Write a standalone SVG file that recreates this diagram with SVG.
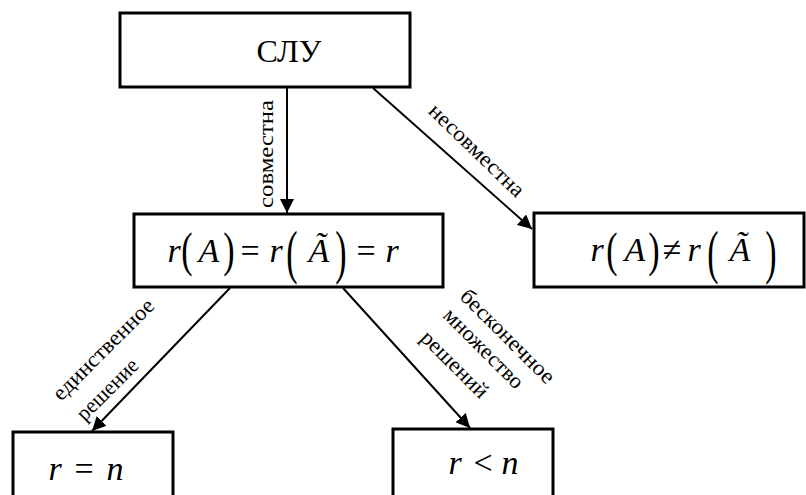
<svg xmlns="http://www.w3.org/2000/svg" width="806" height="495" viewBox="0 0 806 495">
<style>
.box{fill:#fff;stroke:#000;stroke-width:3}
.ln{stroke:#000;stroke-width:2;fill:none}
text{font-family:"Liberation Serif","Times New Roman",serif;fill:#000}
.lbl{font-size:22px;text-anchor:middle;dominant-baseline:central}
.m{font-style:italic;font-size:34px;text-anchor:middle}
.op{font-size:34px;text-anchor:middle}
.par{font-size:34px;text-anchor:middle}
</style>
<defs>
<marker id="ah" viewBox="0 0 10 10" refX="10" refY="5" markerWidth="7" markerHeight="7" orient="auto" markerUnits="strokeWidth"><path d="M0,0 L10,5 L0,10 z" fill="#000"/></marker>
</defs>
<rect width="806" height="495" fill="#fff"/>
<g id="connectors">
<line class="ln" x1="287" y1="88" x2="287" y2="213" marker-end="url(#ah)"/>
<line class="ln" x1="373" y1="88" x2="532" y2="229" marker-end="url(#ah)"/>
<line class="ln" x1="230" y1="288" x2="92" y2="431" marker-end="url(#ah)"/>
<line class="ln" x1="343" y1="288" x2="470" y2="428" marker-end="url(#ah)"/>
<text class="lbl" transform="translate(265,154) rotate(-90)" textLength="108" lengthAdjust="spacingAndGlyphs">совместна</text>
<text class="lbl" transform="translate(477,150) rotate(44)" textLength="124" lengthAdjust="spacingAndGlyphs">несовместна</text>
<text class="lbl" transform="translate(103,349) rotate(-45)" textLength="134" lengthAdjust="spacingAndGlyphs">единственное</text>
<text class="lbl" transform="translate(107,389) rotate(-45)" textLength="78" lengthAdjust="spacingAndGlyphs">решение</text>
<text class="lbl" transform="translate(508,336) rotate(45)" textLength="124" lengthAdjust="spacingAndGlyphs">бесконечное</text>
<text class="lbl" transform="translate(484,348) rotate(45)" textLength="104" lengthAdjust="spacingAndGlyphs">множество</text>
<text class="lbl" transform="translate(455,364) rotate(45)" textLength="86" lengthAdjust="spacingAndGlyphs">решений</text>
</g>
<g id="slu">
<rect class="box" x="120" y="13" width="290" height="74"/>
<text x="289" y="62" font-size="32" text-anchor="middle" textLength="65" lengthAdjust="spacingAndGlyphs">СЛУ</text>
</g>
<g id="equal">
<rect class="box" x="134" y="214" width="309" height="73"/>
<text class="m" x="174" y="262">r</text>
<text class="par" transform="translate(187,266) scale(1,1.45)">(</text>
<text class="m" x="209" y="262">A</text>
<text class="par" transform="translate(229,266) scale(1,1.45)">)</text>
<text class="op" x="250" y="262">=</text>
<text class="m" x="276" y="262">r</text>
<text class="par" transform="translate(292,272) scale(1,1.75)">(</text>
<text class="m" x="319" y="262">Ã</text>
<text class="par" transform="translate(341,272) scale(1,1.75)">)</text>
<text class="op" x="366" y="262">=</text>
<text class="m" x="392" y="262">r</text>
</g>
<g id="noteq">
<rect class="box" x="534" y="213" width="270" height="74"/>
<text class="m" x="597" y="261">r</text>
<text class="par" transform="translate(612,266) scale(1,1.45)">(</text>
<text class="m" x="635" y="261">A</text>
<text class="par" transform="translate(654,266) scale(1,1.45)">)</text>
<text class="op" x="672" y="261">≠</text>
<text class="m" x="694" y="261">r</text>
<text class="par" transform="translate(713,272) scale(1,1.75)">(</text>
<text class="m" x="740" y="261">Ã</text>
<text class="par" transform="translate(771,272) scale(1,1.75)">)</text>
</g>
<g id="unique">
<rect class="box" x="13" y="432" width="160" height="80"/>
<text class="m" x="55" y="480">r</text>
<text class="op" x="84" y="480">=</text>
<text class="m" x="115" y="480">n</text>
</g>
<g id="infinite">
<rect class="box" x="393" y="429" width="160" height="80"/>
<text class="m" x="455" y="474">r</text>
<text class="op" x="483" y="474">&lt;</text>
<text class="m" x="510" y="474">n</text>
</g>
</svg>
